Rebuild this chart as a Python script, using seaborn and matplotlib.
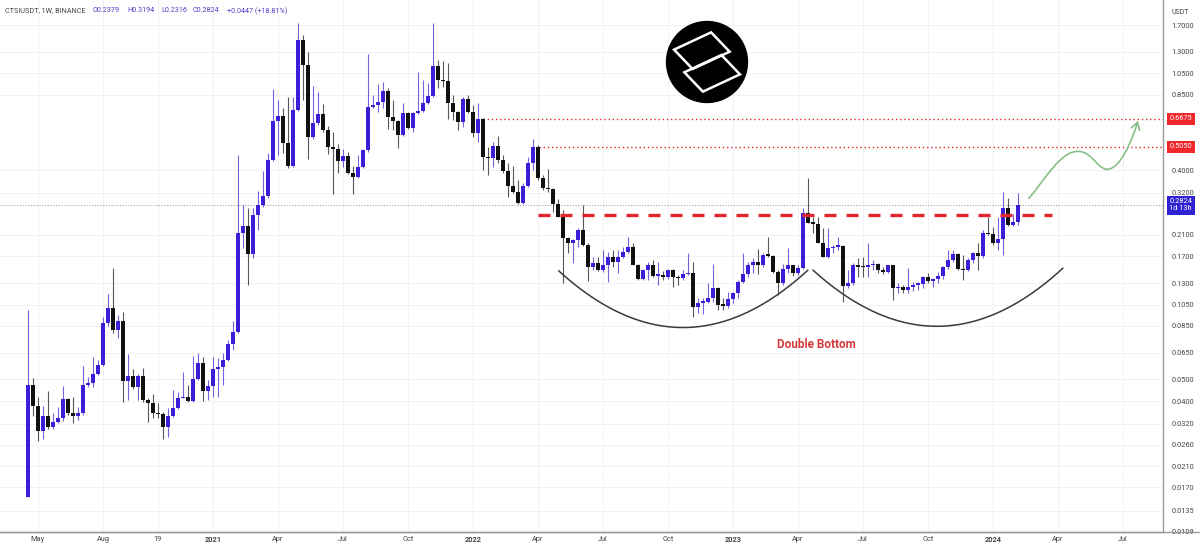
import numpy as np
import pandas as pd
import matplotlib
matplotlib.use("Agg")
import matplotlib.pyplot as plt
import matplotlib.dates as mdates
import matplotlib.transforms as mtransforms
from matplotlib.patches import Circle, Polygon, FancyArrowPatch
from matplotlib.path import Path
from matplotlib.ticker import NullLocator
import seaborn as sns

sns.set_theme(style="white")
plt.rcParams["font.family"] = ["Roboto", "DejaVu Sans"]

# weekly CTSI/USDT candles, first bar = week of 2020-04-20
first_week = "2020-04-20"

opens = [
    0.0155, 0.0472, 0.0383, 0.0298, 0.0347, 0.0311, 0.0326, 0.0340, 0.0411, 0.0357,
    0.0347, 0.0357, 0.0472, 0.0482, 0.0527, 0.0576, 0.0875, 0.101, 0.0816, 0.0893,
    0.0491, 0.0517, 0.0463, 0.0517, 0.0407, 0.0395, 0.0357, 0.0354, 0.0311, 0.0347,
    0.0376, 0.0415, 0.0420, 0.0403, 0.0501, 0.0588, 0.0445, 0.0467, 0.0553, 0.0565,
    0.0606, 0.0710, 0.0800, 0.214, 0.230, 0.174, 0.257, 0.283, 0.310, 0.443,
    0.654, 0.687, 0.525, 0.418, 0.729, 1.464, 1.141, 0.557, 0.641, 0.701,
    0.597, 0.505, 0.495, 0.439, 0.461, 0.390, 0.374, 0.414, 0.490, 0.751,
    0.766, 0.789, 0.881, 0.681, 0.654, 0.568, 0.708, 0.609, 0.708, 0.722,
    0.781, 0.839, 1.130, 0.983, 0.973, 0.781, 0.715, 0.647, 0.813, 0.715,
    0.580, 0.667, 0.457, 0.452, 0.510, 0.443, 0.397, 0.342, 0.322, 0.289,
    0.342, 0.430, 0.505, 0.370, 0.336, 0.332, 0.286, 0.252, 0.204, 0.194,
    0.200, 0.221, 0.190, 0.153, 0.159, 0.148, 0.156, 0.169, 0.161, 0.169,
    0.178, 0.186, 0.156, 0.136, 0.148, 0.156, 0.140, 0.141, 0.138, 0.148,
    0.138, 0.137, 0.142, 0.144, 0.102, 0.107, 0.108, 0.112, 0.124, 0.105,
    0.104, 0.111, 0.118, 0.131, 0.142, 0.156, 0.161, 0.156, 0.172, 0.171,
    0.145, 0.130, 0.150, 0.155, 0.144, 0.151, 0.262, 0.237, 0.235, 0.194,
    0.169, 0.184, 0.187, 0.189, 0.126, 0.130, 0.156, 0.153, 0.152, 0.156,
    0.158, 0.148, 0.145, 0.155, 0.124, 0.125, 0.122, 0.125, 0.128, 0.129,
    0.138, 0.133, 0.135, 0.139, 0.153, 0.163, 0.174, 0.150, 0.148, 0.163,
    0.176, 0.171, 0.214, 0.212, 0.194, 0.202, 0.275, 0.232, 0.2379,
]
highs = [
    0.0996, 0.0506, 0.0420, 0.0383, 0.0445, 0.0357, 0.0380, 0.0467, 0.0415, 0.0420,
    0.0380, 0.0570, 0.0511, 0.0624, 0.0606, 0.0929, 0.117, 0.151, 0.0948, 0.0977,
    0.0643, 0.0553, 0.0525, 0.0559, 0.0412, 0.0432, 0.0395, 0.0360, 0.0376, 0.0449,
    0.0440, 0.0537, 0.0472, 0.0630, 0.0649, 0.0624, 0.0496, 0.0624, 0.0618, 0.0649,
    0.0739, 0.0893, 0.466, 0.283, 0.275, 0.275, 0.326, 0.397, 0.476, 0.899,
    0.805, 0.743, 0.830, 0.830, 1.734, 1.539, 1.300, 0.926, 0.873, 0.774,
    0.622, 0.586, 0.520, 0.495, 0.481, 0.418, 0.466, 0.495, 1.274, 0.847,
    0.944, 0.963, 0.908, 0.805, 0.660, 0.781, 0.715, 0.715, 1.064, 0.983,
    0.954, 1.734, 1.200, 1.190, 1.165, 0.847, 0.722, 0.830, 0.847, 0.766,
    0.781, 0.675, 0.505, 0.530, 0.563, 0.466, 0.430, 0.418, 0.363, 0.353,
    0.457, 0.546, 0.515, 0.382, 0.405, 0.336, 0.301, 0.270, 0.206, 0.202,
    0.225, 0.283, 0.194, 0.169, 0.169, 0.181, 0.178, 0.181, 0.181, 0.186,
    0.206, 0.194, 0.158, 0.149, 0.161, 0.164, 0.161, 0.147, 0.149, 0.150,
    0.141, 0.148, 0.176, 0.161, 0.112, 0.112, 0.130, 0.158, 0.125, 0.112,
    0.119, 0.119, 0.134, 0.176, 0.161, 0.167, 0.183, 0.176, 0.206, 0.172,
    0.148, 0.158, 0.184, 0.156, 0.156, 0.275, 0.370, 0.252, 0.250, 0.225,
    0.225, 0.190, 0.206, 0.190, 0.148, 0.159, 0.167, 0.169, 0.194, 0.164,
    0.159, 0.153, 0.156, 0.156, 0.130, 0.128, 0.151, 0.131, 0.131, 0.140,
    0.144, 0.137, 0.145, 0.154, 0.181, 0.181, 0.176, 0.172, 0.167, 0.178,
    0.194, 0.221, 0.252, 0.227, 0.250, 0.323, 0.304, 0.260, 0.3194,
]
lows = [
    0.0154, 0.0347, 0.0271, 0.0276, 0.0305, 0.0305, 0.0323, 0.0330, 0.0350, 0.0323,
    0.0333, 0.0350, 0.0463, 0.0463, 0.0522, 0.0570, 0.0850, 0.0792, 0.0754, 0.0399,
    0.0407, 0.0454, 0.0407, 0.0399, 0.0326, 0.0340, 0.0340, 0.0276, 0.0282, 0.0343,
    0.0372, 0.0412, 0.0399, 0.0399, 0.0496, 0.0403, 0.0407, 0.0420, 0.0420, 0.0472,
    0.0600, 0.0669, 0.0795, 0.184, 0.128, 0.167, 0.221, 0.278, 0.305, 0.440,
    0.466, 0.476, 0.410, 0.412, 0.720, 0.805, 0.447, 0.546, 0.628, 0.586,
    0.471, 0.316, 0.390, 0.414, 0.386, 0.316, 0.370, 0.410, 0.481, 0.743,
    0.715, 0.743, 0.603, 0.597, 0.500, 0.565, 0.605, 0.586, 0.700, 0.715,
    0.774, 0.830, 0.908, 0.917, 0.667, 0.660, 0.597, 0.616, 0.708, 0.557,
    0.530, 0.401, 0.382, 0.414, 0.430, 0.390, 0.307, 0.319, 0.287, 0.287,
    0.339, 0.401, 0.363, 0.329, 0.322, 0.265, 0.250, 0.130, 0.176, 0.159,
    0.186, 0.188, 0.133, 0.148, 0.147, 0.145, 0.131, 0.153, 0.144, 0.167,
    0.176, 0.155, 0.134, 0.134, 0.134, 0.138, 0.128, 0.134, 0.136, 0.125,
    0.128, 0.134, 0.141, 0.0929, 0.0967, 0.0958, 0.107, 0.108, 0.0996, 0.0996,
    0.101, 0.107, 0.112, 0.130, 0.138, 0.144, 0.142, 0.153, 0.169, 0.144,
    0.116, 0.128, 0.144, 0.140, 0.141, 0.149, 0.236, 0.214, 0.193, 0.168,
    0.167, 0.176, 0.180, 0.108, 0.124, 0.128, 0.138, 0.138, 0.138, 0.148,
    0.144, 0.143, 0.144, 0.110, 0.118, 0.118, 0.118, 0.120, 0.121, 0.124,
    0.130, 0.125, 0.130, 0.136, 0.150, 0.161, 0.148, 0.134, 0.147, 0.159,
    0.148, 0.167, 0.210, 0.190, 0.181, 0.172, 0.230, 0.229, 0.2316,
]
closes = [
    0.0472, 0.0383, 0.0298, 0.0347, 0.0311, 0.0326, 0.0340, 0.0411, 0.0357, 0.0347,
    0.0357, 0.0472, 0.0482, 0.0527, 0.0576, 0.0875, 0.101, 0.0816, 0.0893, 0.0491,
    0.0517, 0.0463, 0.0517, 0.0407, 0.0395, 0.0357, 0.0354, 0.0311, 0.0347, 0.0376,
    0.0415, 0.0420, 0.0403, 0.0501, 0.0588, 0.0445, 0.0467, 0.0553, 0.0565, 0.0606,
    0.0710, 0.0800, 0.214, 0.230, 0.174, 0.257, 0.283, 0.310, 0.443, 0.654,
    0.687, 0.525, 0.418, 0.729, 1.464, 1.141, 0.557, 0.641, 0.701, 0.597,
    0.505, 0.495, 0.439, 0.461, 0.390, 0.374, 0.414, 0.490, 0.751, 0.766,
    0.789, 0.881, 0.681, 0.654, 0.568, 0.708, 0.609, 0.708, 0.722, 0.781,
    0.839, 1.130, 0.983, 0.973, 0.781, 0.715, 0.647, 0.813, 0.715, 0.580,
    0.667, 0.457, 0.452, 0.510, 0.443, 0.397, 0.342, 0.322, 0.289, 0.342,
    0.430, 0.505, 0.370, 0.336, 0.332, 0.286, 0.252, 0.204, 0.194, 0.200,
    0.221, 0.190, 0.153, 0.159, 0.148, 0.156, 0.169, 0.161, 0.169, 0.178,
    0.186, 0.156, 0.136, 0.148, 0.156, 0.140, 0.141, 0.138, 0.148, 0.138,
    0.137, 0.142, 0.144, 0.102, 0.107, 0.108, 0.112, 0.124, 0.105, 0.104,
    0.111, 0.118, 0.131, 0.142, 0.156, 0.161, 0.156, 0.172, 0.171, 0.145,
    0.130, 0.150, 0.155, 0.144, 0.151, 0.262, 0.237, 0.235, 0.194, 0.169,
    0.184, 0.187, 0.189, 0.126, 0.130, 0.156, 0.153, 0.152, 0.156, 0.158,
    0.148, 0.145, 0.155, 0.124, 0.125, 0.122, 0.125, 0.128, 0.129, 0.138,
    0.133, 0.135, 0.139, 0.153, 0.163, 0.174, 0.150, 0.148, 0.163, 0.176,
    0.171, 0.214, 0.212, 0.194, 0.202, 0.275, 0.232, 0.2379, 0.2824,
]

price_ticks = [1.7, 1.3, 1.05, 0.85, 0.40, 0.32, 0.21, 0.17, 0.13, 0.105, 0.085,
               0.065, 0.05, 0.04, 0.032, 0.026, 0.021, 0.017, 0.0135, 0.0109]
date_ticks = ["2020-05-04", "2020-08-03", "2020-10-19", "2021-01-04", "2021-04-05",
              "2021-07-05", "2021-10-04", "2022-01-03", "2022-04-04", "2022-07-04",
              "2022-10-03", "2023-01-02", "2023-04-03", "2023-07-03", "2023-10-02",
              "2024-01-01", "2024-04-01", "2024-07-01"]
date_labels = ["May", "Aug", "19", "2021", "Apr", "Jul", "Oct", "2022", "Apr", "Jul",
               "Oct", "2023", "Apr", "Jul", "Oct", "2024", "Apr", "Jul"]

last_price = 0.2824
target_1 = 0.6675
target_2 = 0.5050
neckline = 0.255

bull = "#3b1fd6"
bear = "#111111"
red = "#e3262b"

df = pd.DataFrame({"open": opens, "high": highs, "low": lows, "close": closes})
df["date"] = pd.date_range(first_week, periods=len(df), freq="7D")
df["x"] = mdates.date2num(df["date"])
df["up"] = df["close"] >= df["open"]

def dn(s):
    return mdates.date2num(pd.Timestamp(s))

fig = plt.figure(figsize=(12, 5.48), dpi=100)
ax = fig.add_axes([0, 16 / 548, 1163 / 1200, 532 / 548])
ax.set_facecolor("white")
ax.set_yscale("log")
ax.set_ylim(0.0109, 2.181)
ax.set_xlim(dn("2020-03-12"), dn("2024-08-26"))

# candles
cols = np.where(df["up"], bull, bear)
ax.vlines(df["x"], df["low"], df["high"], colors=cols, lw=0.8, alpha=0.7, zorder=3)
body_lo = df[["open", "close"]].min(axis=1)
body_hi = df[["open", "close"]].max(axis=1)
body_h = np.maximum(body_hi - body_lo, body_hi * 0.012)
ax.bar(df["x"], body_h, bottom=body_lo, width=4.6, color=cols, linewidth=0, zorder=4)

# axes styling
ax.yaxis.tick_right()
ax.set_yticks(price_ticks)
ax.set_yticklabels([f"{v:.4f}" for v in price_ticks])
ax.yaxis.set_minor_locator(NullLocator())
ax.set_xticks([dn(d) for d in date_ticks])
ax.set_xticklabels(date_labels)
for lab in ax.get_xticklabels():
    if len(lab.get_text()) == 4:
        lab.set_fontweight("bold")
ax.tick_params(axis="y", length=0, pad=6, labelsize=5.3, labelcolor="#444444")
ax.tick_params(axis="x", length=0, pad=3, labelsize=5.3, labelcolor="#444444")
ax.grid(True, color="#eff1f5", lw=0.7)
ax.set_axisbelow(True)
for side in ["top", "left"]:
    ax.spines[side].set_visible(False)
for side in ["bottom", "right"]:
    ax.spines[side].set_color("#9a9a9a")
    ax.spines[side].set_linewidth(1.0)
fig.add_artist(plt.Line2D([0, 1], [16 / 548, 16 / 548], color="#9a9a9a", lw=1.0))

# price lines
xmax = ax.get_xlim()[1]
ax.axhline(last_price, color="#a0a0a0", lw=0.8, ls=(0, (1, 1.5)), zorder=2)
ax.plot([dn("2022-01-17"), xmax], [target_1, target_1], color=red, lw=1.0, ls=(0, (1, 2)), zorder=2)
ax.plot([dn("2022-04-06"), xmax], [target_2, target_2], color=red, lw=1.0, ls=(0, (1, 2)), zorder=2)
ax.plot([dn("2022-04-04"), dn("2024-03-24")], [neckline, neckline], color=red, lw=2.4,
        ls=(0, (3.6, 3.0)), zorder=5)

# bowl shaped arcs
def draw_arc(pts):
    xs = np.array([dn(p[0]) for p in pts])
    ys = np.log10([p[1] for p in pts])
    coef = np.polyfit(xs, ys, 2)
    xx = np.linspace(xs[0], xs[-1], 150)
    ax.plot(xx, 10 ** np.polyval(coef, xx), color="#3a3a3a", lw=1.1, zorder=5)

draw_arc([("2022-05-03", 0.147), ("2022-11-12", 0.0841), ("2023-04-17", 0.148)])
draw_arc([("2023-04-24", 0.148), ("2023-09-28", 0.085), ("2024-04-08", 0.151)])

ax.text(dn("2023-04-29"), 0.0703, "Double Bottom", color="#d63a3a", fontsize=8.5,
        fontweight="bold", ha="center", va="center")

# projected path arrow
arrow_pts = [("2024-02-20", 0.302), ("2024-03-15", 0.368), ("2024-04-04", 0.483),
             ("2024-04-29", 0.483), ("2024-05-19", 0.483), ("2024-05-26", 0.404),
             ("2024-06-09", 0.404), ("2024-06-27", 0.404), ("2024-07-14", 0.541),
             ("2024-07-22", 0.655)]
verts = [(dn(d), p) for d, p in arrow_pts]
codes = [Path.MOVETO] + [Path.CURVE4] * 9
arrow = FancyArrowPatch(path=Path(verts, codes), arrowstyle="->,head_length=5,head_width=3",
                        color="#86bf88", lw=1.2, transform=ax.transData, zorder=6)
ax.add_patch(arrow)

# right side price labels
blend = mtransforms.blended_transform_factory(ax.transAxes, ax.transData)
for val in [target_1, target_2]:
    ax.text(1.0055, val, f"{val:.4f}", transform=blend, ha="left", va="center",
            fontsize=5.3, color="white", clip_on=False,
            bbox=dict(boxstyle="square,pad=0.35", fc="#f0282d", ec="none"))
ax.text(1.0055, last_price, f"{last_price:.4f}\n1d 13h", transform=blend, ha="left",
        va="center", fontsize=5.3, color="white", linespacing=1.05, clip_on=False,
        bbox=dict(boxstyle="square,pad=0.3", fc="#2f22d2", ec="none"))
fig.text(1180 / 1200, 1 - 12 / 548, "USDT", fontsize=5, ha="center", va="center", color="#444444")

# header
hy = 1 - 11 / 548
fig.text(5 / 1200, hy, "CTSIUSDT, 1W, BINANCE", fontsize=5.2, color="#444444", va="center")
head_vals = [(93, "O0.2379"), (127, "H0.3194"), (161, "L0.2316"), (193, "C0.2824"),
             (227, "+0.0447 (+18.81%)")]
for hx, txt in head_vals:
    fig.text(hx / 1200, hy, txt, fontsize=5.2, color="#4c3fc8", va="center")

# logo
lax = fig.add_axes([665 / 1200, 1 - 104 / 548, 84 / 1200, 84 / 548])
lax.set_xlim(-1.02, 1.02)
lax.set_ylim(-1.02, 1.02)
lax.axis("off")
lax.add_patch(Circle((0, 0), 1.0, fc="black", ec="none"))
logo_a = [(-0.80, 0.30), (0.10, 0.72), (0.55, 0.25), (-0.35, -0.17)]
logo_b = [(0.80, -0.30), (-0.10, -0.72), (-0.55, -0.25), (0.35, 0.17)]
for poly in [logo_a, logo_b]:
    lax.add_patch(Polygon(poly, closed=True, fill=False, ec="white", lw=1.8, joinstyle="miter"))

fig.savefig("out.png", dpi=100, facecolor="white")
